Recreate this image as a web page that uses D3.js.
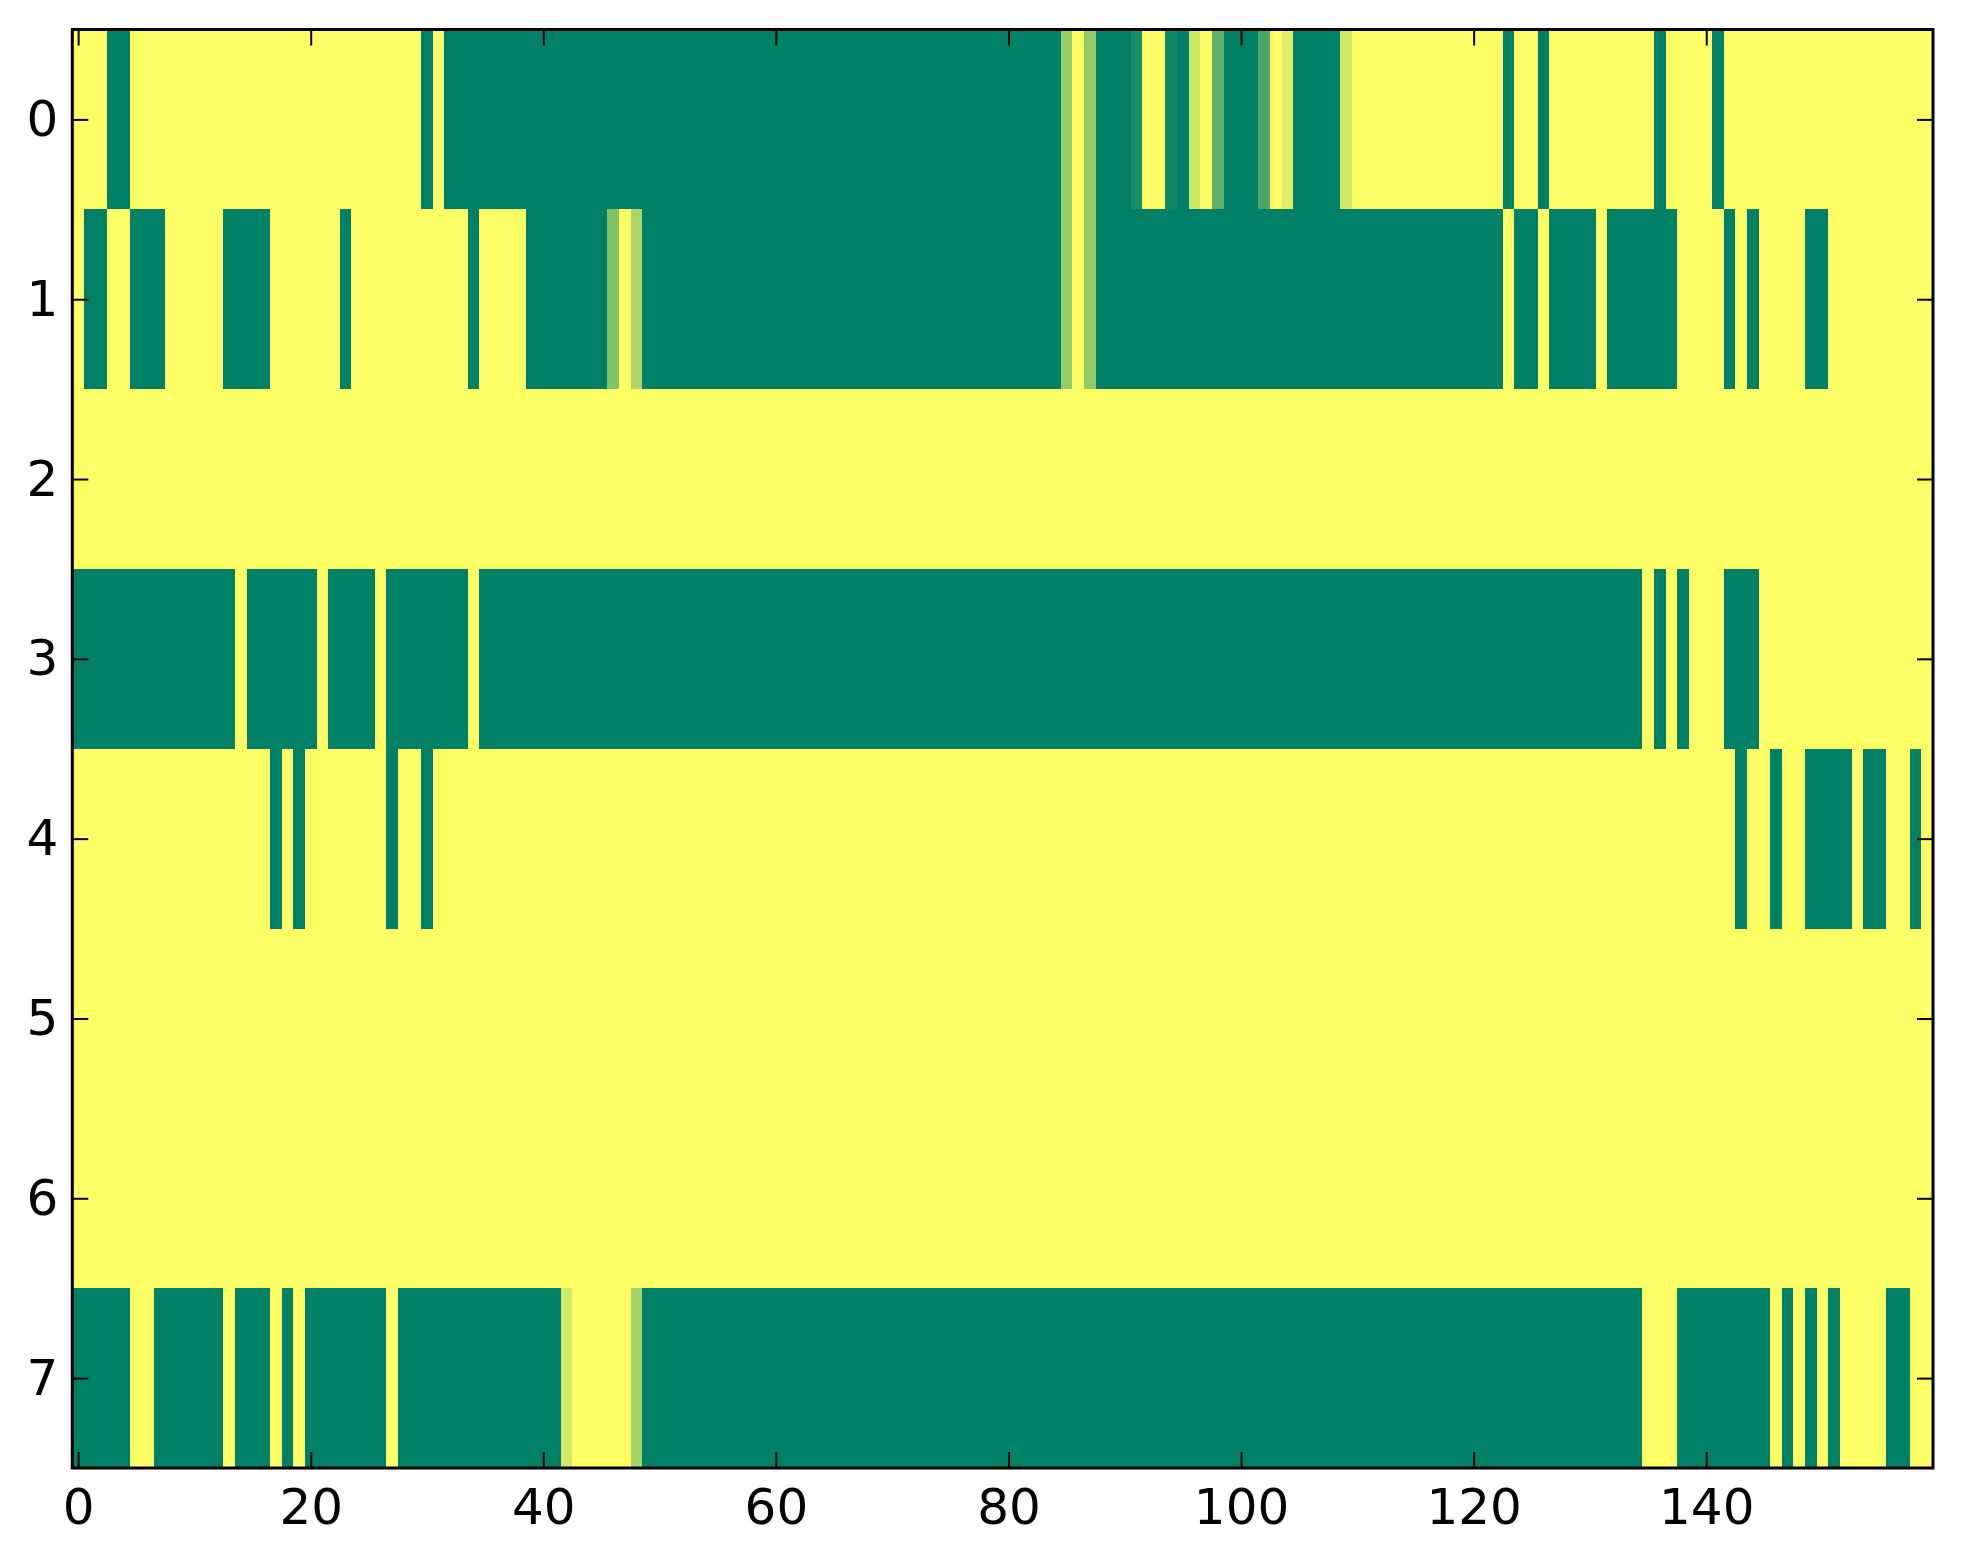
<!DOCTYPE html>
<html>
<head>
<meta charset="utf-8">
<script src="https://cdn.jsdelivr.net/npm/d3@7"></script>
<style>
  body { margin: 0; background: #fff; }
  text { font-family: "DejaVu Sans", sans-serif; }
</style>
</head>
<body>
<script>
// one array per image row, 160 columns each (0 = yellow, 1 = green)
const row0 = [
  0,0,0,1,1,0,0,0,0,0, 0,0,0,0,0,0,0,0,0,0,
  0,0,0,0,0,0,0,0,0,0, 1,0,1,1,1,1,1,1,1,1,
  1,1,1,1,1,1,1,1,1,1, 1,1,1,1,1,1,1,1,1,1,
  1,1,1,1,1,1,1,1,1,1, 1,1,1,1,1,1,1,1,1,1,
  1,1,1,1,1,0.4,0,0.42,1,1, 1,0.9,0,0,0.945,1,0.2,0,0.62,1,
  1,1,0.71,0,0.13,1,1,1,1,0.18, 0,0,0,0,0,0,0,0,0,0,
  0,0,0,1,0,0,1,0,0,0, 0,0,0,0,0,0,1,0,0,0,
  0,1,0,0,0,0,0,0,0,0, 0,0,0,0,0,0,0,0,0,0
];
const row1 = [
  0,1,1,0,0,1,1,1,0,0, 0,0,0,1,1,1,1,0,0,0,
  0,0,0,1,0,0,0,0,0,0, 0,0,0,0,1,0,0,0,0,1,
  1,1,1,1,1,1,0.48,0,0.32,1, 1,1,1,1,1,1,1,1,1,1,
  1,1,1,1,1,1,1,1,1,1, 1,1,1,1,1,1,1,1,1,1,
  1,1,1,1,1,0.4,0,0.42,1,1, 1,1,1,1,1,1,1,1,1,1,
  1,1,1,1,1,1,1,1,1,1, 1,1,1,1,1,1,1,1,1,1,
  1,1,1,0,1,1,0,1,1,1, 1,0,1,1,1,1,1,1,0,0,
  0,0,1,0,1,0,0,0,0,1, 1,0,0,0,0,0,0,0,0,0
];
const row2 = [
  0,0,0,0,0,0,0,0,0,0, 0,0,0,0,0,0,0,0,0,0,
  0,0,0,0,0,0,0,0,0,0, 0,0,0,0,0,0,0,0,0,0,
  0,0,0,0,0,0,0,0,0,0, 0,0,0,0,0,0,0,0,0,0,
  0,0,0,0,0,0,0,0,0,0, 0,0,0,0,0,0,0,0,0,0,
  0,0,0,0,0,0,0,0,0,0, 0,0,0,0,0,0,0,0,0,0,
  0,0,0,0,0,0,0,0,0,0, 0,0,0,0,0,0,0,0,0,0,
  0,0,0,0,0,0,0,0,0,0, 0,0,0,0,0,0,0,0,0,0,
  0,0,0,0,0,0,0,0,0,0, 0,0,0,0,0,0,0,0,0,0
];
const row3 = [
  1,1,1,1,1,1,1,1,1,1, 1,1,1,1,0,1,1,1,1,1,
  1,0,1,1,1,1,0,1,1,1, 1,1,1,1,0,1,1,1,1,1,
  1,1,1,1,1,1,1,1,1,1, 1,1,1,1,1,1,1,1,1,1,
  1,1,1,1,1,1,1,1,1,1, 1,1,1,1,1,1,1,1,1,1,
  1,1,1,1,1,1,1,1,1,1, 1,1,1,1,1,1,1,1,1,1,
  1,1,1,1,1,1,1,1,1,1, 1,1,1,1,1,1,1,1,1,1,
  1,1,1,1,1,1,1,1,1,1, 1,1,1,1,1,0,1,0,1,0,
  0,0,1,1,1,0,0,0,0,0, 0,0,0,0,0,0,0,0,0,0
];
const row4 = [
  0,0,0,0,0,0,0,0,0,0, 0,0,0,0,0,0,0,1,0,1,
  0,0,0,0,0,0,0,1,0,0, 1,0,0,0,0,0,0,0,0,0,
  0,0,0,0,0,0,0,0,0,0, 0,0,0,0,0,0,0,0,0,0,
  0,0,0,0,0,0,0,0,0,0, 0,0,0,0,0,0,0,0,0,0,
  0,0,0,0,0,0,0,0,0,0, 0,0,0,0,0,0,0,0,0,0,
  0,0,0,0,0,0,0,0,0,0, 0,0,0,0,0,0,0,0,0,0,
  0,0,0,0,0,0,0,0,0,0, 0,0,0,0,0,0,0,0,0,0,
  0,0,0,1,0,0,1,0,0,1, 1,1,1,0,1,1,0,0,1,0
];
const row5 = row2.slice();
const row6 = row2.slice();
const row7 = [
  1,1,1,1,1,0,0,1,1,1, 1,1,1,0,1,1,1,0,1,0,
  1,1,1,1,1,1,1,0,1,1, 1,1,1,1,1,1,1,1,1,1,
  1,1,0.17,0,0,0,0,0,0.35,1, 1,1,1,1,1,1,1,1,1,1,
  1,1,1,1,1,1,1,1,1,1, 1,1,1,1,1,1,1,1,1,1,
  1,1,1,1,1,1,1,1,1,1, 1,1,1,1,1,1,1,1,1,1,
  1,1,1,1,1,1,1,1,1,1, 1,1,1,1,1,1,1,1,1,1,
  1,1,1,1,1,1,1,1,1,1, 1,1,1,1,1,0,0,0,1,1,
  1,1,1,1,1,1,0,1,0,1, 0,1,0,0,0,0,1,1,0,0
];

const rows = [row0, row1, row2, row3, row4, row5, row6, row7];
const rowTicks = [0, 1, 2, 3, 4, 5, 6, 7];
const colTicks = [0, 20, 40, 60, 80, 100, 120, 140];

const W = 1963, H = 1564;
const mLeft = 72.3, mRight = 1933, mTop = 29.5, mBottom = 1468;

const svg = d3.select("body").append("svg")
  .attr("width", W)
  .attr("height", H);

const nCols = row0.length;
const x = d3.scaleLinear().domain([-0.5, nCols - 0.5]).range([mLeft, mRight]);
const y = d3.scaleLinear().domain([-0.5, rows.length - 0.5]).range([mTop, mBottom]);

// summer_r: 0 -> yellow, 1 -> green
const color = d3.scaleLinear().domain([0, 1]).range(["#ffff66", "#008066"]);

const cells = [];
rows.forEach((r, ri) => r.forEach((v, ci) => cells.push({ row: ri, col: ci, v: v })));

svg.append("g")
  .selectAll("rect")
  .data(cells)
  .enter()
  .append("rect")
  .attr("x", d => x(d.col - 0.5))
  .attr("y", d => y(d.row - 0.5))
  .attr("width", d => x(d.col + 0.5) - x(d.col - 0.5) + 0.5)
  .attr("height", d => y(d.row + 0.5) - y(d.row - 0.5) + 0.5)
  .attr("fill", d => color(d.v))
  .attr("shape-rendering", "crispEdges");

// Axes, ticks point inward on all four sides
const tick = 16;
function styleAxis(g) {
  g.select(".domain").remove();
  g.selectAll(".tick line").attr("stroke", "#000").attr("stroke-width", 2);
  g.selectAll(".tick text")
    .style("font-family", "'DejaVu Sans', sans-serif")
    .style("font-size", "50px")
    .attr("fill", "#000");
}

svg.append("g")
  .attr("transform", `translate(0,${mBottom})`)
  .call(d3.axisBottom(x).tickValues(colTicks).tickSizeInner(-tick).tickSizeOuter(0).tickPadding(20))
  .call(styleAxis);

svg.append("g")
  .attr("transform", `translate(0,${mTop})`)
  .call(d3.axisTop(x).tickValues(colTicks).tickSizeInner(-tick).tickSizeOuter(0).tickFormat(""))
  .call(styleAxis);

svg.append("g")
  .attr("transform", `translate(${mLeft},0)`)
  .call(d3.axisLeft(y).tickValues(rowTicks).tickSizeInner(-tick).tickSizeOuter(0).tickPadding(14))
  .call(styleAxis);

svg.append("g")
  .attr("transform", `translate(${mRight},0)`)
  .call(d3.axisRight(y).tickValues(rowTicks).tickSizeInner(-tick).tickSizeOuter(0).tickFormat(""))
  .call(styleAxis);

// frame
svg.append("rect")
  .attr("x", mLeft)
  .attr("y", mTop)
  .attr("width", mRight - mLeft)
  .attr("height", mBottom - mTop)
  .attr("fill", "none")
  .attr("stroke", "#000")
  .attr("stroke-width", 3);
</script>
</body>
</html>
